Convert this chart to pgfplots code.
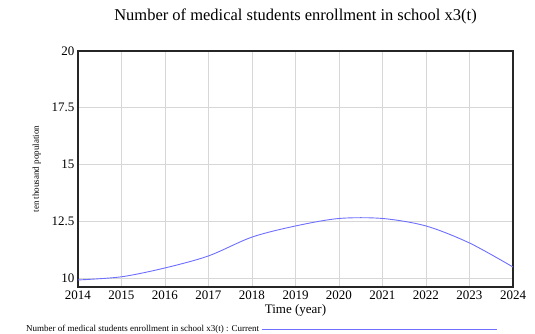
\documentclass[border=0pt]{standalone}
\usepackage{pgfplots}
\pgfplotsset{compat=1.18}
\usepackage{fontspec}
\setmainfont{Liberation Serif}
\definecolor{curve}{RGB}{110,110,255}
\definecolor{gridc}{RGB}{215,215,215}
\begin{document}
\begin{tikzpicture}
\begin{axis}[
  at={(0pt,0pt)}, anchor=south west,
  scale only axis,
  width=435pt, height=236pt,
  xmin=2014, xmax=2024,
  ymin=9.6, ymax=20,
  xtick={2014,2015,...,2024},
  ytick={10,12.5,15,17.5,20},
  yticklabels={10,12.5,15,17.5,20},
  /pgf/number format/assume math mode=true,
  xticklabel={\pgfmathprintnumber[1000 sep={},fixed]{\tick}},
  tick label style={font=\fontsize{13}{13}\selectfont},
  major tick length=0pt,
  grid=major,
  major grid style={gridc, line width=0.8pt},
  axis line style={black!85, line width=1.2pt},
  title={Number of medical students enrollment in school x3(t)},
  title style={font=\fontsize{16.5}{16.5}\selectfont, at={(axis description cs:0.5,1)}, anchor=south, yshift=17pt},
  xlabel={Time (year)},
  xlabel style={font=\fontsize{13}{13}\selectfont, yshift=2pt},
  ylabel={ten thousand population},
  ylabel style={font=\fontsize{9}{9}\selectfont, yshift=4pt},
  legend plot pos=right,
  legend style={draw=none, fill=none, font=\fontsize{9}{9}\selectfont,
    at={(axis description cs:0,0)}, anchor=north west, xshift=-54pt, yshift=-36pt,
    inner sep=0pt},
  legend image code/.code={\draw[#1] (0pt,0pt) -- (235pt,0pt);},
]
\addplot[curve, line width=0.9pt, smooth] coordinates {
(2014,9.91) (2015,10.05) (2016,10.44) (2017,10.97) (2018,11.8)
(2019,12.29) (2020,12.62) (2021,12.62) (2022,12.29) (2023,11.54) (2024,10.48)
};
\addlegendentry{Number of medical students enrollment in school x3(t) : Current}
\end{axis}
\pgfresetboundingbox
\useasboundingbox (-78pt,-46pt) rectangle (457pt,287pt);
\end{tikzpicture}
\end{document}
